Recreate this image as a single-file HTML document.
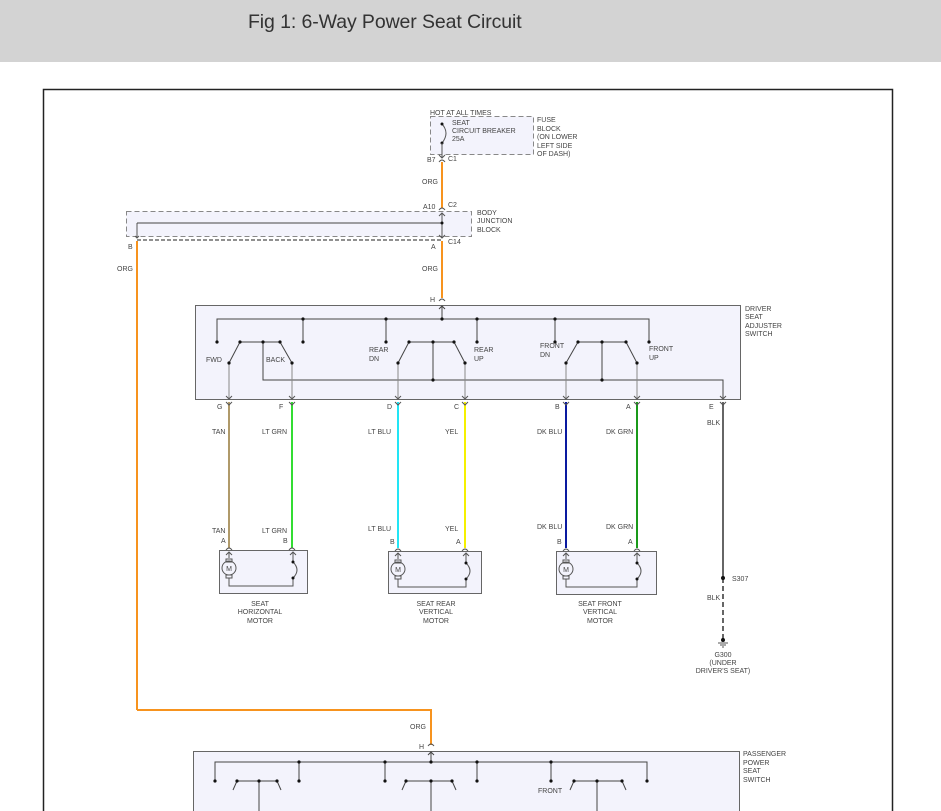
<!DOCTYPE html>
<html><head><meta charset="utf-8"><style>
html,body{margin:0;padding:0;background:#fff;width:941px;height:811px;overflow:hidden}
.hdr{position:absolute;left:0;top:0;width:941px;height:62px;background:#d3d3d3}
.hdr span{position:absolute;left:248px;top:11px;font:19.5px "Liberation Sans",sans-serif;color:#333;letter-spacing:-0.1px}
svg{position:absolute;left:0;top:0}
text{font-family:"Liberation Sans",sans-serif;font-size:7px;fill:#444}
</style></head><body>
<div class="hdr"><span>Fig 1: 6-Way Power Seat Circuit</span></div>
<svg width="941" height="811" viewBox="0 0 941 811">
<rect x="43.5" y="89.5" width="849" height="740" fill="#fff" stroke="#222" stroke-width="1.5"/>
<rect x="430.5" y="116.5" width="103" height="38" fill="#f3f3fc" stroke="#888" stroke-dasharray="5,3"/>
<text x="430" y="115">HOT AT ALL TIMES</text>
<text x="452" y="125">SEAT</text><text x="452" y="133">CIRCUIT BREAKER</text><text x="452" y="141">25A</text>
<text x="537" y="122">FUSE</text><text x="537" y="131">BLOCK</text><text x="537" y="139">(ON LOWER</text><text x="537" y="148">LEFT SIDE</text><text x="537" y="156">OF DASH)</text>
<path d="M442 124 Q450 133 442 143" fill="none" stroke="#555"/>
<circle cx="442" cy="124" r="1.5" fill="#111"/><circle cx="442" cy="143" r="1.5" fill="#111"/>
<line x1="442" y1="143" x2="442" y2="158" stroke="#555"/>
<path d="M439 155 L442 158 L445 155 M439 162 Q442 158 445 162" fill="none" stroke="#555"/>
<text x="427" y="162">B7</text><text x="448" y="161">C1</text>
<line x1="442" y1="162" x2="442" y2="208" stroke="#f7931e" stroke-width="2"/>
<text x="422" y="184">ORG</text>
<text x="423" y="209">A10</text><text x="448" y="207">C2</text>
<rect x="126.5" y="211.5" width="345" height="25" fill="#f3f3fc" stroke="#888" stroke-dasharray="5,3"/>
<path d="M439 210 Q442 206 445 210" fill="none" stroke="#555"/>
<path d="M139 236 L137 238 L135 236 M137 223 L137 238 M442 213 L442 238 M439 216 L442 213 L445 216 M439 235 L442 238 L445 235" fill="none" stroke="#555"/>
<line x1="137" y1="223" x2="442" y2="223" stroke="#444"/>
<circle cx="442" cy="223" r="1.5" fill="#111"/>
<text x="477" y="215">BODY</text><text x="477" y="223">JUNCTION</text><text x="477" y="232">BLOCK</text>
<line x1="137" y1="240" x2="442" y2="240" stroke="#222" stroke-dasharray="4,2"/>
<text x="128" y="249">B</text><text x="431" y="249">A</text><text x="448" y="244">C14</text>
<line x1="137" y1="241" x2="137" y2="710" stroke="#f7931e" stroke-width="2"/>
<polyline points="137,710 431,710 431,745" fill="none" stroke="#f7931e" stroke-width="2"/>
<text x="117" y="271">ORG</text>
<line x1="442" y1="241" x2="442" y2="298" stroke="#f7931e" stroke-width="2"/>
<text x="422" y="271">ORG</text>
<text x="430" y="302">H</text>
<path d="M439 301 Q442 297 445 301" fill="none" stroke="#555"/>
<rect x="195.5" y="305.5" width="545" height="94" fill="#f3f3fc" stroke="#666"/>
<text x="745" y="311">DRIVER</text><text x="745" y="319">SEAT</text><text x="745" y="328">ADJUSTER</text><text x="745" y="336">SWITCH</text>
<g stroke="#444" fill="none">
<path d="M442 306 L442 319 M439 309 L442 306 L445 309"/>
<polyline points="217,342 217,319 649,319 649,342"/>
<line x1="303" y1="319" x2="303" y2="342"/><line x1="386" y1="319" x2="386" y2="342"/>
<line x1="477" y1="319" x2="477" y2="342"/><line x1="555" y1="319" x2="555" y2="342"/>
<line x1="240" y1="342" x2="280" y2="342"/><line x1="409" y1="342" x2="454" y2="342"/><line x1="578" y1="342" x2="626" y2="342"/>
<line x1="229" y1="363" x2="240" y2="342"/><line x1="292" y1="363" x2="280" y2="342"/>
<line x1="398" y1="363" x2="409" y2="342"/><line x1="465" y1="363" x2="454" y2="342"/>
<line x1="566" y1="363" x2="578" y2="342"/><line x1="637" y1="363" x2="626" y2="342"/>
<polyline points="263,342 263,380 723,380 723,398"/>
<line x1="433" y1="342" x2="433" y2="380"/><line x1="602" y1="342" x2="602" y2="380"/>
</g>
<g stroke="#888" fill="none">
<line x1="229" y1="363" x2="229" y2="398"/><line x1="292" y1="363" x2="292" y2="398"/>
<line x1="398" y1="363" x2="398" y2="398"/><line x1="465" y1="363" x2="465" y2="398"/>
<line x1="566" y1="363" x2="566" y2="398"/><line x1="637" y1="363" x2="637" y2="398"/>
</g>
<g fill="#111">
<circle cx="303" cy="319" r="1.6"/><circle cx="386" cy="319" r="1.6"/><circle cx="442" cy="319" r="1.6"/><circle cx="477" cy="319" r="1.6"/><circle cx="555" cy="319" r="1.6"/>
<circle cx="217" cy="342" r="1.6"/><circle cx="240" cy="342" r="1.6"/><circle cx="263" cy="342" r="1.6"/><circle cx="280" cy="342" r="1.6"/><circle cx="303" cy="342" r="1.6"/>
<circle cx="386" cy="342" r="1.6"/><circle cx="409" cy="342" r="1.6"/><circle cx="433" cy="342" r="1.6"/><circle cx="454" cy="342" r="1.6"/><circle cx="477" cy="342" r="1.6"/>
<circle cx="555" cy="342" r="1.6"/><circle cx="578" cy="342" r="1.6"/><circle cx="602" cy="342" r="1.6"/><circle cx="626" cy="342" r="1.6"/><circle cx="649" cy="342" r="1.6"/>
<circle cx="229" cy="363" r="1.6"/><circle cx="292" cy="363" r="1.6"/><circle cx="398" cy="363" r="1.6"/><circle cx="465" cy="363" r="1.6"/><circle cx="566" cy="363" r="1.6"/><circle cx="637" cy="363" r="1.6"/>
<circle cx="433" cy="380" r="1.6"/><circle cx="602" cy="380" r="1.6"/>
</g>
<text x="206" y="362">FWD</text><text x="266" y="362">BACK</text>
<text x="369" y="352">REAR</text><text x="369" y="361">DN</text><text x="474" y="352">REAR</text><text x="474" y="361">UP</text>
<text x="540" y="348">FRONT</text><text x="540" y="357">DN</text><text x="649" y="351">FRONT</text><text x="649" y="360">UP</text>
<g fill="none" stroke-width="2">
<line x1="229" y1="402" x2="229" y2="548" stroke="#b09a6a"/>
<line x1="292" y1="402" x2="292" y2="548" stroke="#33dd33"/>
<line x1="398" y1="402" x2="398" y2="548" stroke="#22e5f5"/>
<line x1="465" y1="402" x2="465" y2="548" stroke="#f5f000"/>
<line x1="566" y1="402" x2="566" y2="548" stroke="#0a1aa0"/>
<line x1="637" y1="402" x2="637" y2="548" stroke="#1a9a1a"/>
<line x1="723" y1="402" x2="723" y2="578" stroke="#666"/>
<line x1="723" y1="578" x2="723" y2="640" stroke="#666" stroke-dasharray="5,3"/>
</g>
<g stroke="#555" fill="none">
<path d="M226 396 L229 399 L232 396 M226 402 L229 405 L232 402"/>
<path d="M289 396 L292 399 L295 396 M289 402 L292 405 L295 402"/>
<path d="M395 396 L398 399 L401 396 M395 402 L398 405 L401 402"/>
<path d="M462 396 L465 399 L468 396 M462 402 L465 405 L468 402"/>
<path d="M563 396 L566 399 L569 396 M563 402 L566 405 L569 402"/>
<path d="M634 396 L637 399 L640 396 M634 402 L637 405 L640 402"/>
<path d="M720 396 L723 399 L726 396 M720 402 L723 405 L726 402"/>
</g>
<text x="217" y="409">G</text><text x="279" y="409">F</text><text x="387" y="409">D</text><text x="454" y="409">C</text><text x="555" y="409">B</text><text x="626" y="409">A</text><text x="709" y="409">E</text>
<text x="212" y="434">TAN</text><text x="262" y="434">LT GRN</text><text x="368" y="434">LT BLU</text><text x="445" y="434">YEL</text><text x="537" y="434">DK BLU</text><text x="606" y="434">DK GRN</text><text x="707" y="425">BLK</text>
<text x="212" y="533">TAN</text><text x="262" y="533">LT GRN</text><text x="368" y="531">LT BLU</text><text x="445" y="531">YEL</text><text x="537" y="529">DK BLU</text><text x="606" y="529">DK GRN</text>
<text x="221" y="543">A</text><text x="283" y="543">B</text><text x="390" y="544">B</text><text x="456" y="544">A</text><text x="557" y="544">B</text><text x="628" y="544">A</text>
<rect x="219.5" y="550.5" width="88" height="43" fill="#f3f3fc" stroke="#666"/>
<rect x="388.5" y="551.5" width="93" height="42" fill="#f3f3fc" stroke="#666"/>
<rect x="556.5" y="551.5" width="100" height="43" fill="#f3f3fc" stroke="#666"/>
<g stroke="#555" fill="none">
<path d="M226 550 Q229 546 232 550 M289 550 Q292 546 295 550"/>
<path d="M395 551 Q398 547 401 551 M462 551 Q465 547 468 551"/>
<path d="M563 551 Q566 547 569 551 M634 551 Q637 547 640 551"/>
<path d="M229 552 L229 558 M226 555 L229 552 L232 555 M229 578 L229 586 L293 586 L293 578 M293 552 L293 562 M290 555 L293 552 L296 555 M293 562 Q301 570 293 578"/>
<path d="M398 553 L398 559 M395 556 L398 553 L401 556 M398 579 L398 587 L466 587 L466 579 M466 553 L466 563 M463 556 L466 553 L469 556 M466 563 Q474 571 466 579"/>
<path d="M566 553 L566 559 M563 556 L566 553 L569 556 M566 579 L566 587 L637 587 L637 579 M637 553 L637 563 M634 556 L637 553 L640 556 M637 563 Q645 571 637 579"/>
<circle cx="229" cy="568" r="7"/><circle cx="398" cy="569" r="7"/><circle cx="566" cy="569" r="7"/>
<rect x="226" y="559" width="6" height="3"/><rect x="226" y="575" width="6" height="3"/>
<rect x="395" y="560" width="6" height="3"/><rect x="395" y="576" width="6" height="3"/>
<rect x="563" y="560" width="6" height="3"/><rect x="563" y="576" width="6" height="3"/>
</g>
<g fill="#111"><circle cx="293" cy="562" r="1.5"/><circle cx="293" cy="578" r="1.5"/><circle cx="466" cy="563" r="1.5"/><circle cx="466" cy="579" r="1.5"/><circle cx="637" cy="563" r="1.5"/><circle cx="637" cy="579" r="1.5"/></g>
<g font-size="7" text-anchor="middle">
<text x="229" y="571" text-anchor="middle" font-size="9">M</text><text x="398" y="572" text-anchor="middle" font-size="9">M</text><text x="566" y="572" text-anchor="middle" font-size="9">M</text>
<text x="260" y="606" text-anchor="middle">SEAT</text><text x="260" y="614" text-anchor="middle">HORIZONTAL</text><text x="260" y="623" text-anchor="middle">MOTOR</text>
<text x="436" y="606" text-anchor="middle">SEAT REAR</text><text x="436" y="614" text-anchor="middle">VERTICAL</text><text x="436" y="623" text-anchor="middle">MOTOR</text>
<text x="600" y="606" text-anchor="middle">SEAT FRONT</text><text x="600" y="614" text-anchor="middle">VERTICAL</text><text x="600" y="623" text-anchor="middle">MOTOR</text>
<text x="723" y="657" text-anchor="middle">G300</text><text x="723" y="665" text-anchor="middle">(UNDER</text><text x="723" y="673" text-anchor="middle">DRIVER'S SEAT)</text>
</g>
<circle cx="723" cy="578" r="2" fill="#111"/><circle cx="723" cy="640" r="2" fill="#111"/>
<g stroke="#555"><line x1="718" y1="643" x2="728" y2="643"/><line x1="720" y1="645" x2="726" y2="645"/><line x1="722" y1="647" x2="724" y2="647"/></g>
<text x="732" y="581">S307</text><text x="707" y="600">BLK</text>
<text x="410" y="729">ORG</text>
<text x="419" y="749" fill="#c0392b">H</text>
<path d="M428 746 Q431 742 434 746" fill="none" stroke="#555"/>
<rect x="193.5" y="751.5" width="546" height="80" fill="#f3f3fc" stroke="#666"/>
<text x="743" y="756">PASSENGER</text><text x="743" y="765">POWER</text><text x="743" y="773">SEAT</text><text x="743" y="782">SWITCH</text>
<g stroke="#444" fill="none">
<path d="M431 752 L431 762 M428 755 L431 752 L434 755"/>
<polyline points="215,781 215,762 647,762 647,781"/>
<line x1="299" y1="762" x2="299" y2="781"/><line x1="385" y1="762" x2="385" y2="781"/><line x1="477" y1="762" x2="477" y2="781"/><line x1="551" y1="762" x2="551" y2="781"/>
<line x1="237" y1="781" x2="277" y2="781"/><line x1="406" y1="781" x2="452" y2="781"/><line x1="574" y1="781" x2="622" y2="781"/>
<line x1="259" y1="781" x2="259" y2="811"/><line x1="431" y1="781" x2="431" y2="811"/><line x1="597" y1="781" x2="597" y2="811"/>
<line x1="233" y1="790" x2="237" y2="781"/><line x1="281" y1="790" x2="277" y2="781"/><line x1="402" y1="790" x2="406" y2="781"/><line x1="456" y1="790" x2="452" y2="781"/><line x1="570" y1="790" x2="574" y2="781"/><line x1="626" y1="790" x2="622" y2="781"/>
</g>
<g fill="#111">
<circle cx="299" cy="762" r="1.6"/><circle cx="385" cy="762" r="1.6"/><circle cx="431" cy="762" r="1.6"/><circle cx="477" cy="762" r="1.6"/><circle cx="551" cy="762" r="1.6"/>
<circle cx="215" cy="781" r="1.6"/><circle cx="237" cy="781" r="1.6"/><circle cx="259" cy="781" r="1.6"/><circle cx="277" cy="781" r="1.6"/><circle cx="299" cy="781" r="1.6"/>
<circle cx="385" cy="781" r="1.6"/><circle cx="406" cy="781" r="1.6"/><circle cx="431" cy="781" r="1.6"/><circle cx="452" cy="781" r="1.6"/><circle cx="477" cy="781" r="1.6"/>
<circle cx="551" cy="781" r="1.6"/><circle cx="574" cy="781" r="1.6"/><circle cx="597" cy="781" r="1.6"/><circle cx="622" cy="781" r="1.6"/><circle cx="647" cy="781" r="1.6"/>
</g>
<text x="538" y="793">FRONT</text>
</svg>
</body></html>
